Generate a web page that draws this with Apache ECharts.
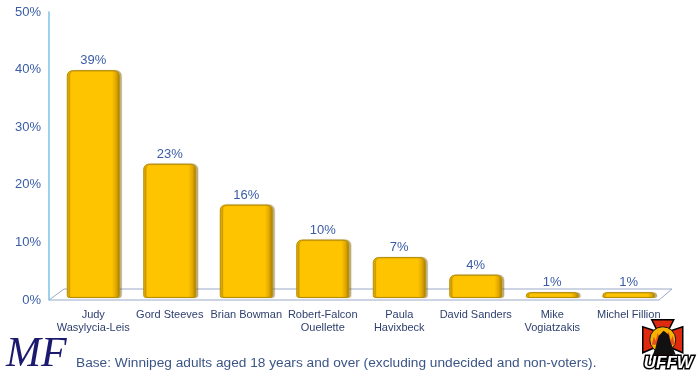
<!DOCTYPE html>
<html><head><meta charset="utf-8">
<script src="https://cdn.jsdelivr.net/npm/echarts@6/dist/echarts.min.js"></script>
<style>html,body{margin:0;padding:0;background:#fff}#c{width:700px;height:375px}</style>
</head><body><div id="c"></div>
<script>
const categories = ["Judy\nWasylycia-Leis","Gord Steeves","Brian Bowman","Robert-Falcon\nOuellette","Paula\nHavixbeck","David Sanders","Mike\nVogiatzakis","Michel Fillion"];
const values = [39,23,16,10,7,4,1,1];
const yTicks = [0,10,20,30,40,50];
const footnote = "Base: Winnipeg adults aged 18 years and over (excluding undecided and non-voters).";

const chart = echarts.init(document.getElementById('c'));
const barGrad = new echarts.graphic.LinearGradient(0,0,1,0,[
  {offset:0,color:'#D9A400'},{offset:0.08,color:'#FFC400'},{offset:0.85,color:'#FFC400'},{offset:0.93,color:'#E0A800'},{offset:1,color:'#A07800'}]);
const fontFam = 'Liberation Sans, Arial';
chart.setOption({
  animation:false,
  grid:[{left:55,right:33,top:6,bottom:77},{left:49,right:33,top:12,bottom:75}],
  xAxis:[{type:'category',data:categories,gridIndex:0,
    axisLine:{show:false},axisTick:{show:false},
    axisLabel:{color:'#2E3F6E',fontFamily:fontFam,fontSize:11,lineHeight:13,margin:10,interval:0}},
    {type:'value',gridIndex:1,show:false,min:0,max:1}],
  yAxis:[{type:'value',gridIndex:0,min:yTicks[0],max:yTicks[yTicks.length-1],interval:10,show:false},
    {type:'value',gridIndex:1,min:yTicks[0],max:yTicks[yTicks.length-1],interval:10,
    axisLine:{show:true,lineStyle:{color:'#7CC3E6',width:1.5}},axisTick:{show:false},splitLine:{show:false},
    axisLabel:{formatter:'{value}%',color:'#3A5CA6',fontFamily:fontFam,fontSize:13,margin:8}}],
  series:[{type:'bar',data:values,barWidth:53,xAxisIndex:0,yAxisIndex:0,
    itemStyle:{color:barGrad,borderRadius:[5,5,2,2],borderColor:'#B88E00',borderWidth:1,
      shadowColor:'rgba(120,90,0,0.45)',shadowOffsetX:2,shadowOffsetY:0,shadowBlur:1},
    label:{show:true,position:'top',distance:3,formatter:'{c}%',color:'#3A5CA6',fontFamily:fontFam,fontSize:13}
  }]
});

function draw(){
  const p0 = chart.convertToPixel({gridIndex:1},[0,0]);
  const base = p0[1];
  const left = 49, right = 659;
  const g = [];
  g.push({type:'polygon',silent:true,z:-1,shape:{points:[[left,base],[left+15,base-11],[right+13,base-11],[right,base]]},
    style:{fill:'rgba(0,0,0,0)',stroke:'#9AA8C8',lineWidth:1}});
  g.push({type:'text',left:6,top:334,style:{text:'MF',font:'italic 42px "Liberation Serif", "DejaVu Serif", serif',fill:'#1C1A6E'}});
  g.push({type:'text',left:76,top:356,style:{text:footnote,font:'13.7px "Liberation Sans", Arial',fill:'#3B5585'}});
  g.push({type:'group',left:642,top:319,children:[
    {type:'polygon',shape:{points:[[9,1],[31,1],[25,13],[40,8],[40,34],[26,28],[31,41],[9,41],[14,28],[0,34],[0,8],[15,13]]},style:{fill:'#E02A10',stroke:'#000',lineWidth:1.5}},
    {type:'circle',shape:{cx:20,cy:21,r:13},style:{fill:'#F7B200',stroke:'#111',lineWidth:1}},
    {type:'polygon',shape:{points:[[9,26],[11,18],[13,22],[15,14],[17,20],[20,12],[23,20],[26,13],[28,22],[30,17],[32,26]]},style:{fill:'#E8501A'}},
    {type:'polygon',shape:{points:[[11,36],[14,24],[16,17],[21,12],[26,16],[28,24],[33,36]]},style:{fill:'#111'}},
    {type:'text',x:1,y:36,style:{text:'UFFW',font:'italic bold 17px "Liberation Sans", Arial',fill:'#fff',stroke:'#000',lineWidth:3}}
  ]});
  chart.setOption({graphic:g});
}
draw();
</script></body></html>
